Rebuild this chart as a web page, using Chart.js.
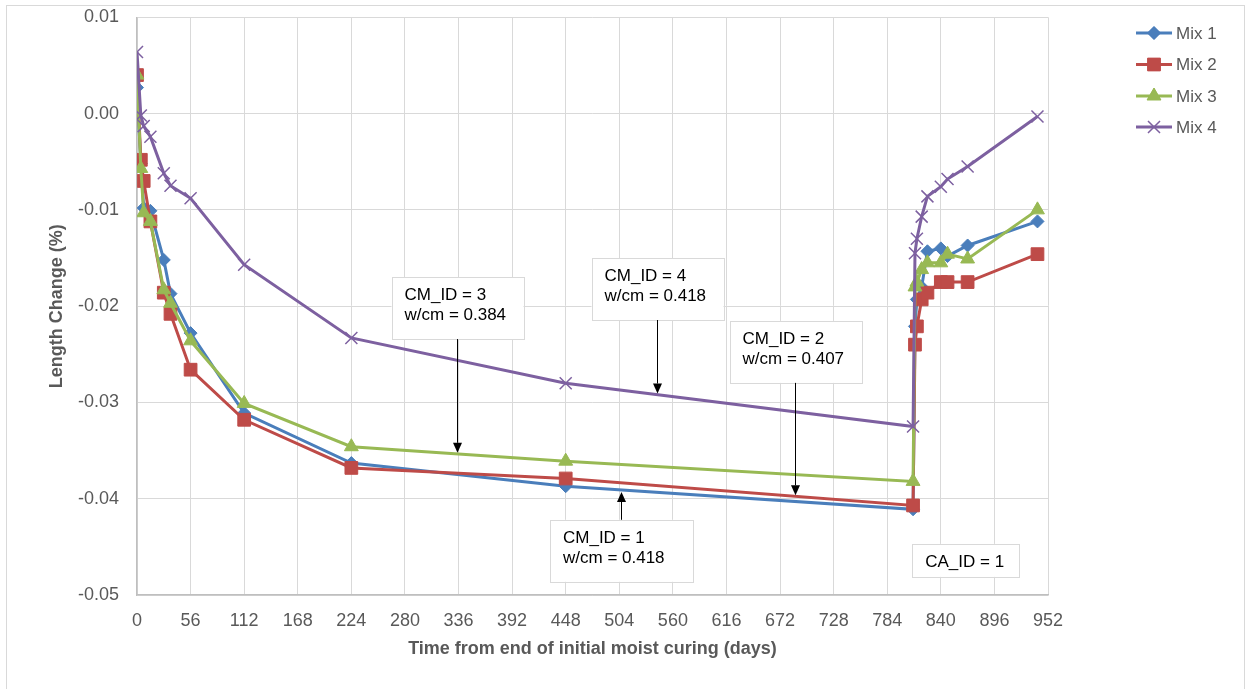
<!DOCTYPE html>
<html>
<head>
<meta charset="utf-8">
<title>Length change vs. time</title>
<script src="https://cdn.jsdelivr.net/npm/chart.js@4/dist/chart.umd.min.js"></script>
<style>
  html, body { margin: 0; padding: 0; background: #ffffff; }
  #wrap { position: relative; width: 1251px; height: 689px; }
</style>
</head>
<body>
<div id="wrap"><canvas id="chart" width="1251" height="689"></canvas></div>
<script>
// Measurement ages (days from end of initial moist curing)
const days = [0, 4, 7, 14, 28, 35, 56, 112, 224, 448, 811, 813, 815, 820, 826, 840, 847, 868, 941];

// Length change (%) of each mix at those ages
const mix1 = [0.0027, -0.0052, -0.0098, -0.0101, -0.0152, -0.0187, -0.0228, -0.0311, -0.0363, -0.0387, -0.0411,
              -0.0221, -0.0193, -0.0180, -0.0143, -0.0140, -0.0148, -0.0137, -0.0112];
const mix2 = [0.0040, -0.0048, -0.0070, -0.0112, -0.0186, -0.0208, -0.0266, -0.0318, -0.0368, -0.0379, -0.0407,
              -0.0240, -0.0221, -0.0193, -0.0186, -0.0175, -0.0175, -0.0175, -0.0146];
const mix3 = [0.0040, -0.0057, -0.0103, -0.0112, -0.0183, -0.0197, -0.0236, -0.0301, -0.0346, -0.0361, -0.0382,
              -0.0180, -0.0175, -0.0162, -0.0155, -0.0155, -0.0146, -0.0151, -0.0100];
const mix4 = [0.0064, -0.0002, -0.0013, -0.0024, -0.0062, -0.0075, -0.0088, -0.0157, -0.0233, -0.0280, -0.0325,
              -0.0145, -0.0130, -0.0107, -0.0086, -0.0076, -0.0068, -0.0055, -0.0003];

const seriesNames = ['Mix 1', 'Mix 2', 'Mix 3', 'Mix 4'];

// Axis ticks
const xTickValues = [0, 56, 112, 168, 224, 280, 336, 392, 448, 504, 560, 616, 672, 728, 784, 840, 896, 952];
const yTickValues = [0.01, 0.00, -0.01, -0.02, -0.03, -0.04, -0.05];
const yTickLabels = ['0.01', '0.00', '-0.01', '-0.02', '-0.03', '-0.04', '-0.05'];

// Callout texts and where they point (day on the curve of the given mix)
const callouts = [
  { lines: ['CM_ID = 3', 'w/cm = 0.384'], day: 334, mix: 2, boxTop: -0.01698, width: 132, below: false },
  { lines: ['CM_ID = 4', 'w/cm = 0.418'], day: 543, mix: 3, boxTop: -0.0150,  width: 132, below: false },
  { lines: ['CM_ID = 2', 'w/cm = 0.407'], day: 688, mix: 1, boxTop: -0.02153, width: 132, below: false },
  { lines: ['CM_ID = 1', 'w/cm = 0.418'], day: 506, mix: 0, boxTop: -0.04219, width: 143, below: true }
];
const noteBox = { lines: ['CA_ID = 1'], day: 866, boxTop: -0.04469, width: 107 };

const allSeries = [mix1, mix2, mix3, mix4];
const colors = ['#4A7EBB', '#BE4B48', '#98B954', '#7D60A0'];
const pointStyles = ['rectRot', 'rect', 'triangle', 'crossRot'];
const pointRadii = [6.5, 9, 8, 8.5];
const pointBorders = [1, 1, 1, 1.5];

const FONT = '"Liberation Sans", Arial, Helvetica, sans-serif';
const TEXT_GREY = '#595959';

const datasets = allSeries.map((vals, i) => ({
  label: seriesNames[i],
  data: days.map((d, k) => ({ x: d, y: vals[k] })),
  showLine: true,
  borderColor: colors[i],
  backgroundColor: colors[i],
  borderWidth: 3,
  pointStyle: pointStyles[i],
  pointRadius: pointRadii[i],
  pointBorderWidth: pointBorders[i],
  pointBorderColor: colors[i],
  pointBackgroundColor: colors[i],
  tension: 0,
  order: 3 - i
}));

function valueAt(series, day) {
  for (let k = 0; k < days.length - 1; k++) {
    if (day >= days[k] && day <= days[k + 1]) {
      const t = (day - days[k]) / (days[k + 1] - days[k]);
      return series[k] + t * (series[k + 1] - series[k]);
    }
  }
  return series[series.length - 1];
}

// Outer frame of the chart
const framePlugin = {
  id: 'frame',
  beforeDraw(chart) {
    const ctx = chart.ctx;
    ctx.save();
    ctx.fillStyle = '#ffffff';
    ctx.fillRect(0, 0, chart.width, chart.height);
    ctx.strokeStyle = '#d9d9d9';
    ctx.lineWidth = 1;
    ctx.strokeRect(6.5, 5.5, 1238, 690);
    ctx.restore();
  }
};

// Legend on the right with line + marker samples
const legendPlugin = {
  id: 'sideLegend',
  afterDraw(chart) {
    const ctx = chart.ctx;
    ctx.save();
    const x0 = 1136, x1 = 1172, tx = 1176;
    const ys = [33, 64.5, 96, 127];
    seriesNames.forEach((name, i) => {
      const y = ys[i];
      ctx.strokeStyle = colors[i];
      ctx.lineWidth = 3;
      ctx.beginPath();
      ctx.moveTo(x0, y);
      ctx.lineTo(x1, y);
      ctx.stroke();
      ctx.fillStyle = colors[i];
      ctx.strokeStyle = colors[i];
      ctx.lineWidth = pointBorders[i];
      Chart.helpers.drawPoint(ctx, { pointStyle: pointStyles[i], radius: pointRadii[i], borderWidth: pointBorders[i], rotation: 0 }, (x0 + x1) / 2, y);
      if (i !== 3) ctx.fill();
      ctx.fillStyle = TEXT_GREY;
      ctx.font = '17px ' + FONT;
      ctx.textBaseline = 'middle';
      ctx.textAlign = 'left';
      ctx.fillText(name, tx, y + 1);
    });
    ctx.restore();
  }
};

function drawBox(ctx, left, top, width, height, lines) {
  ctx.fillStyle = '#ffffff';
  ctx.fillRect(left, top, width, height);
  ctx.strokeStyle = '#d9d9d9';
  ctx.lineWidth = 1;
  ctx.strokeRect(Math.round(left) + 0.5, Math.round(top) + 0.5, width, height);
  ctx.fillStyle = '#000000';
  ctx.font = '17px ' + FONT;
  ctx.textAlign = 'left';
  ctx.textBaseline = 'alphabetic';
  lines.forEach((t, k) => ctx.fillText(t, left + 13, top + 23 + k * 20));
}

function drawArrow(ctx, x, yFrom, yTo) {
  const dir = yTo > yFrom ? 1 : -1;
  const head = 10;
  ctx.strokeStyle = '#000000';
  ctx.fillStyle = '#000000';
  ctx.lineWidth = 1;
  ctx.beginPath();
  ctx.moveTo(x, yFrom);
  ctx.lineTo(x, yTo - dir * head);
  ctx.stroke();
  ctx.beginPath();
  ctx.moveTo(x, yTo);
  ctx.lineTo(x - 4.5, yTo - dir * head);
  ctx.lineTo(x + 4.5, yTo - dir * head);
  ctx.closePath();
  ctx.fill();
}

// Callout boxes with arrows to the curves
const calloutPlugin = {
  id: 'callouts',
  afterDatasetsDraw(chart) {
    const ctx = chart.ctx;
    const xs = chart.scales.x, ys = chart.scales.y;
    ctx.save();
    callouts.forEach(c => {
      const cx = Math.round(xs.getPixelForValue(c.day)) + 0.5;
      const top = ys.getPixelForValue(c.boxTop);
      const h = 62;
      const target = ys.getPixelForValue(valueAt(allSeries[c.mix], c.day));
      drawBox(ctx, cx - c.width / 2, top, c.width, h, c.lines);
      if (c.below) drawArrow(ctx, cx, top, target + 2);
      else drawArrow(ctx, cx, top + h, target - 1);
    });
    const nx = xs.getPixelForValue(noteBox.day);
    const nt = ys.getPixelForValue(noteBox.boxTop);
    drawBox(ctx, nx - noteBox.width / 2, nt, noteBox.width, 33, noteBox.lines);
    ctx.restore();
  }
};

new Chart(document.getElementById('chart'), {
  type: 'scatter',
  data: { datasets },
  plugins: [framePlugin, calloutPlugin, legendPlugin],
  options: {
    responsive: false,
    animation: false,
    events: [],
    layout: { padding: { left: 0, right: 203, top: 17.3, bottom: 0 } },
    plugins: {
      legend: { display: false },
      tooltip: { enabled: false }
    },
    scales: {
      x: {
        type: 'linear',
        min: 0,
        max: 952,
        afterBuildTicks: s => { s.ticks = xTickValues.map(v => ({ value: v })); },
        afterFit: s => { s.height = 94; },
        grid: { color: '#d9d9d9', lineWidth: 1, drawTicks: false },
        border: { color: '#bfbfbf', width: 1.5 },
        ticks: {
          padding: 15,
          color: TEXT_GREY,
          font: { family: FONT, size: 18 },
          maxRotation: 0,
          autoSkip: false
        },
        title: {
          display: true,
          text: 'Time from end of initial moist curing (days)',
          color: TEXT_GREY,
          font: { family: FONT, size: 18, weight: 'bold' },
          padding: { top: 0, bottom: 29 }
        }
      },
      y: {
        type: 'linear',
        min: -0.05,
        max: 0.01,
        afterBuildTicks: s => { s.ticks = yTickValues.map(v => ({ value: v })); },
        afterFit: s => { s.width = 137; s.paddingTop = 0; s.paddingBottom = 0; },
        grid: { color: '#d9d9d9', lineWidth: 1, drawTicks: false },
        border: { color: '#bfbfbf', width: 1.5 },
        ticks: {
          padding: 18,
          color: TEXT_GREY,
          font: { family: FONT, size: 18 },
          callback: (v) => {
            const idx = yTickValues.findIndex(t => Math.abs(t - v) < 1e-9);
            return idx >= 0 ? yTickLabels[idx] : '';
          }
        },
        title: {
          display: true,
          text: 'Length Change (%)',
          color: TEXT_GREY,
          font: { family: FONT, size: 18, weight: 'bold' },
          padding: { top: 46, bottom: 0 }
        }
      }
    }
  }
});
</script>
</body>
</html>
